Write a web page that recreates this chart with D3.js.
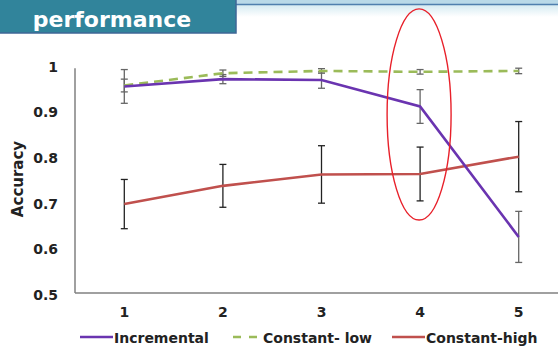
<!DOCTYPE html>
<html>
<head>
<meta charset="utf-8">
<script src="https://cdn.jsdelivr.net/npm/d3@7"></script>
<style>
  body { margin: 0; background: #fff; }
  svg { display: block; font-family: "DejaVu Sans", sans-serif; }
</style>
</head>
<body>
<div id="chart"></div>
<script>
// blocks on the x axis
var blocks = [1, 2, 3, 4, 5];
var yTicks = [0.5, 0.6, 0.7, 0.8, 0.9, 1];

// series values, with +/- error
var incremental = [0.953, 0.969, 0.967, 0.909, 0.623];
var incrementalErr = [0.037, 0.010, 0.018, 0.037, 0.056];
var constLow = [0.955, 0.982, 0.987, 0.985, 0.987];
var constLowErr = [0.014, 0.007, 0.005, 0.005, 0.006];
var constHigh = [0.695, 0.735, 0.760, 0.761, 0.799];
var constHighErr = [0.054, 0.047, 0.063, 0.059, 0.077];

var seriesNames = ["Incremental", "Constant- low", "Constant-high"];

function drawChart(selector) {
    var width = 558, height = 347;

    d3.select(selector).html(null);

    var svg = d3.select(selector)
        .append("svg")
        .attr("width", width)
        .attr("height", height);

    // slide header bits
    var grad = svg.append("defs").append("linearGradient")
        .attr("id", "fade").attr("x1", 0).attr("y1", 0).attr("x2", 0).attr("y2", 1);
    grad.append("stop").attr("offset", "0%").attr("stop-color", "#d6ebf2");
    grad.append("stop").attr("offset", "100%").attr("stop-color", "#ffffff");

    svg.append("rect").attr("x", 236).attr("y", 0).attr("width", width - 236).attr("height", 4)
        .attr("fill", "#b9d9e8");
    svg.append("rect").attr("x", 236).attr("y", 5).attr("width", width - 236).attr("height", 12)
        .attr("fill", "url(#fade)");
    svg.append("line").attr("x1", 236).attr("x2", width).attr("y1", 4.5).attr("y2", 4.5)
        .attr("stroke", "#4f7fae").attr("stroke-width", 1.5);
    svg.append("rect").attr("x", -2).attr("y", -2).attr("width", 238).attr("height", 35)
        .attr("fill", "#31849b").attr("stroke", "#3e6796").attr("stroke-width", 1.5);
    svg.append("text").attr("x", 112).attr("y", 27)
        .attr("text-anchor", "middle").attr("fill", "#fff")
        .attr("font-size", 22).attr("font-weight", "bold")
        .text("performance");

    var x = d3.scaleBand()
        .domain(blocks)
        .range([75, 568]);

    var y = d3.scaleLinear()
        .domain([0.5, 1])
        .range([293, 65]);

    // axes
    svg.append("line").attr("x1", 75).attr("x2", 75).attr("y1", y(0.993)).attr("y2", y(0.5))
        .attr("stroke", "#808080").attr("stroke-width", 1.5);
    svg.append("line").attr("x1", 75).attr("x2", width).attr("y1", y(0.5)).attr("y2", y(0.5))
        .attr("stroke", "#808080").attr("stroke-width", 1.5);

    var yAxis = svg.append("g")
        .attr("transform", "translate(75,0)")
        .call(d3.axisLeft(y).tickValues(yTicks).tickSize(0).tickPadding(17)
            .tickFormat(function(d){ return d === 1 ? "1" : d3.format(".1f")(d); }));
    yAxis.select(".domain").remove();
    yAxis.selectAll("text")
        .attr("font-size", 14).attr("font-weight", "bold").attr("fill", "#222")
        .attr("font-family", "DejaVu Sans, sans-serif")
        .attr("dy", "0.45em");

    var xAxis = svg.append("g")
        .attr("transform", "translate(0," + y(0.5) + ")")
        .call(d3.axisBottom(x).tickSize(0).tickPadding(14));
    xAxis.select(".domain").remove();
    xAxis.selectAll("text")
        .attr("font-size", 14).attr("font-weight", "bold").attr("fill", "#222")
        .attr("font-family", "DejaVu Sans, sans-serif");

    svg.append("text")
        .attr("transform", "translate(23," + y(0.75) + ") rotate(-90)")
        .attr("text-anchor", "middle")
        .attr("font-size", 15).attr("font-weight", "bold").attr("fill", "#222")
        .text("Accuracy");

    var series = [
        {name: seriesNames[0], values: incremental, err: incrementalErr, color: "#6a34b0", dash: null, errColor: "#666"},
        {name: seriesNames[1], values: constLow, err: constLowErr, color: "#9bbb59", dash: "9,6", errColor: "#666"},
        {name: seriesNames[2], values: constHigh, err: constHighErr, color: "#c0504d", dash: null, errColor: "#222"}
    ];

    var cx = function(i){ return x(blocks[i]) + x.bandwidth() / 2; };
    var line = d3.line()
        .x(function(d, i){ return cx(i); })
        .y(function(d){ return y(d); });

    // error bars first so lines sit on top
    series.forEach(function(s){
        var g = svg.append("g");
        s.values.forEach(function(v, i){
            var top = y(v + s.err[i]), bot = y(v - s.err[i]);
            g.append("line").attr("x1", cx(i)).attr("x2", cx(i)).attr("y1", top).attr("y2", bot)
                .attr("stroke", s.errColor).attr("stroke-width", 1.3);
            g.append("line").attr("x1", cx(i) - 3.5).attr("x2", cx(i) + 3.5).attr("y1", top).attr("y2", top)
                .attr("stroke", s.errColor).attr("stroke-width", 1.3);
            g.append("line").attr("x1", cx(i) - 3.5).attr("x2", cx(i) + 3.5).attr("y1", bot).attr("y2", bot)
                .attr("stroke", s.errColor).attr("stroke-width", 1.3);
        });
    });

    // constant-high, constant-low, then incremental on top
    var order = [series[2], series[1], series[0]];
    order.forEach(function(s){
        svg.append("path")
            .datum(s.values)
            .attr("d", line)
            .attr("fill", "none")
            .attr("stroke", s.color)
            .attr("stroke-width", 2.6)
            .attr("stroke-dasharray", s.dash);
    });

    // red ring around block 4
    svg.append("ellipse")
        .attr("cx", cx(3) - 1)
        .attr("cy", (y(1.123) + y(0.66)) / 2)
        .attr("rx", 32)
        .attr("ry", (y(0.66) - y(1.123)) / 2)
        .attr("fill", "none")
        .attr("stroke", "#e8202a")
        .attr("stroke-width", 1.4);

    // legend
    var legendX = [80, 233, 392];
    var legend = svg.selectAll(".legend")
        .data(series).enter().append("g")
        .attr("class", "legend")
        .attr("transform", function(d, i){ return "translate(" + legendX[i] + ",337)"; });
    legend.append("line")
        .attr("x1", 0).attr("x2", 33).attr("y1", 0).attr("y2", 0)
        .attr("stroke", function(d){ return d.color; })
        .attr("stroke-width", 2.6)
        .attr("stroke-dasharray", function(d){ return d.dash ? "8,8" : null; });
    legend.append("text")
        .attr("x", function(d, i){ return i === 1 ? 30 : 34; })
        .attr("y", 5.5)
        .attr("font-size", 14).attr("font-weight", "bold").attr("fill", "#222")
        .text(function(d){ return d.name; });
}

drawChart("#chart");
</script>
</body>
</html>
